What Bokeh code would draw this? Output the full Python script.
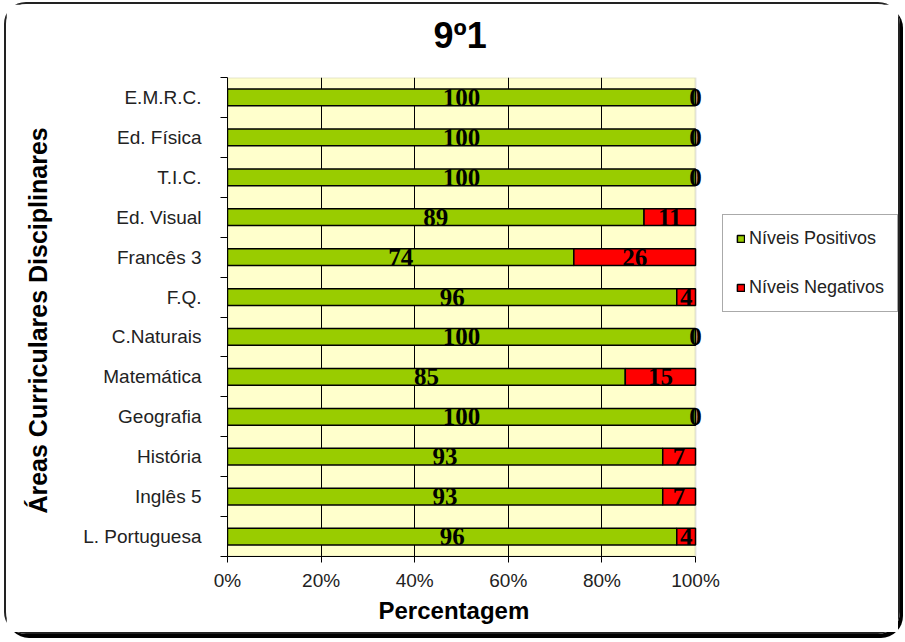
from bokeh.plotting import figure
from bokeh.models import (ColumnDataSource, FixedTicker, PrintfTickFormatter, Range1d,
                          Legend, LegendItem, BoxAnnotation, Title)
from bokeh.core.properties import value
from bokeh.embed import file_html
from bokeh.resources import INLINE

# data (bottom to top)
categories = ["L. Portuguesa", "Inglês 5", "História", "Geografia", "Matemática",
              "C.Naturais", "F.Q.", "Francês 3", "Ed. Visual", "T.I.C.",
              "Ed. Física", "E.M.R.C."]
positivos = [96, 93, 93, 100, 85, 100, 96, 74, 89, 100, 100, 100]
negativos = [4, 7, 7, 0, 15, 0, 4, 26, 11, 0, 0, 0]
x_ticks = [0, 20, 40, 60, 80, 100]

ypos = [i + 1 for i in range(len(categories))]
src = ColumnDataSource(dict(
    y=ypos,
    pos=positivos,
    neg=negativos,
    pos_mid=[p / 2 for p in positivos],
    neg_mid=[p + n / 2 for p, n in zip(positivos, negativos)],
    pos_txt=[str(p) for p in positivos],
    neg_txt=[str(n) for n in negativos],
))

GREEN = "#99CC00"
RED = "#FF0000"
FONT = "Liberation Sans"

# layout (pixels): figure content 896x632, plot area 468 px wide for 0..100 %
W, H = 896, 632
LEFT, TOP, BOTTOM, RIGHT = 221, 73, 80, 3
PLOT_W = 468
frame_w = W - LEFT - RIGHT
xmax = x_ticks[-1] * frame_w / PLOT_W   # extra room to the right holds the legend

p = figure(width=W, height=H, output_backend="svg", toolbar_location=None,
           x_range=Range1d(x_ticks[0], xmax), y_range=Range1d(0.5, len(categories) + 0.5),
           min_border_left=LEFT, min_border_right=RIGHT, min_border_top=TOP,
           min_border_bottom=BOTTOM, background_fill_color="white",
           border_fill_color="white", title=None)

p.styles = {"border": "2px solid #222", "border-radius": "22px",
            "box-shadow": "3px 4px 0px #000", "margin": "2px 0 0 4px"}

# spacer between chart title and plot area, then the title itself
p.add_layout(Title(text=" ", text_font=FONT, text_font_size="12px", standoff=0), "above")
p.add_layout(Title(text="9º1", text_font=FONT, text_font_size="36px",
                   text_font_style="bold", align="left", offset=206,
                   text_color="black", standoff=12), "above")

p.outline_line_color = None

# plot area background (0..100 %)
area = BoxAnnotation(left=x_ticks[0], right=x_ticks[-1], bottom=0.5,
                     top=len(categories) + 0.5, fill_color="#FFFFCC", fill_alpha=1,
                     line_color="#a6a6a6", line_width=2, level="image")
p.add_layout(area)

rs = p.hbar_stack(["pos", "neg"], y="y", height=0.42, color=[GREEN, RED],
                  line_color="black", line_width=1.5, source=src)

p.text(x="pos_mid", y="y", text="pos_txt", source=src, text_align="center",
       text_baseline="middle", text_font=value("Liberation Serif"),
       text_font_style="bold", text_font_size="25px", text_color="black")
p.text(x="neg_mid", y="y", text="neg_txt", source=src, text_align="center",
       text_baseline="middle", text_font=value("Liberation Serif"),
       text_font_style="bold", text_font_size="25px", text_color="black")

# x axis
p.xaxis.ticker = FixedTicker(ticks=x_ticks)
p.xaxis.bounds = (x_ticks[0], x_ticks[-1])
p.xaxis.formatter = PrintfTickFormatter(format="%d%%")
p.xaxis.major_label_text_font = FONT
p.xaxis.major_label_text_font_size = "19px"
p.xaxis.major_label_text_color = "#222"
p.xaxis.major_label_standoff = 7
p.xaxis.major_tick_out = 6
p.xaxis.major_tick_in = 0
p.xaxis.minor_tick_line_color = None
p.xaxis.axis_line_color = "black"
p.xaxis.major_tick_line_color = "black"

xlabel = Title(text="Percentagem", align="left", offset=151, standoff=2,
               text_font=FONT, text_font_size="24px", text_font_style="bold",
               text_color="black")
p.add_layout(xlabel, "below")

# y axis
overrides = {}
for y, c in zip(ypos, categories):
    overrides[y] = c
    overrides[str(y)] = c
p.yaxis.ticker = FixedTicker(ticks=ypos, minor_ticks=[y - 0.5 for y in ypos] + [ypos[-1] + 0.5])
p.yaxis.major_label_overrides = overrides
p.yaxis.axis_label = "Áreas Curriculares  Disciplinares"
p.yaxis.axis_label_text_font = FONT
p.yaxis.axis_label_text_font_size = "25px"
p.yaxis.axis_label_text_font_style = "bold"
p.yaxis.axis_label_text_color = "black"
p.yaxis.axis_label_standoff = 28
p.yaxis.major_label_text_font = FONT
p.yaxis.major_label_text_font_size = "19px"
p.yaxis.major_label_text_color = "#222"
p.yaxis.major_tick_line_color = None
p.yaxis.major_tick_out = 0
p.yaxis.major_tick_in = 0
p.yaxis.major_label_standoff = 19
p.yaxis.minor_tick_out = 7
p.yaxis.minor_tick_in = 0
p.yaxis.minor_tick_line_color = "black"
p.yaxis.axis_line_color = "black"

p.xgrid.ticker = FixedTicker(ticks=x_ticks[1:-1])
p.xgrid.grid_line_color = "black"
p.xgrid.grid_line_width = 1
p.ygrid.grid_line_color = None

legend = Legend(items=[LegendItem(label="Níveis Positivos", renderers=[rs[0]]),
                       LegendItem(label="Níveis Negativos", renderers=[rs[1]])],
                location=(495, 244), margin=0, padding=13, spacing=28,
                glyph_width=9, glyph_height=9, label_standoff=4,
                label_text_font=FONT, label_text_font_size="18px",
                label_text_color="#222",
                border_line_color="#555", border_line_width=1.5,
                background_fill_color="white", background_fill_alpha=1)
p.add_layout(legend, "center")

open("out.html", "w").write(file_html(p, INLINE))
